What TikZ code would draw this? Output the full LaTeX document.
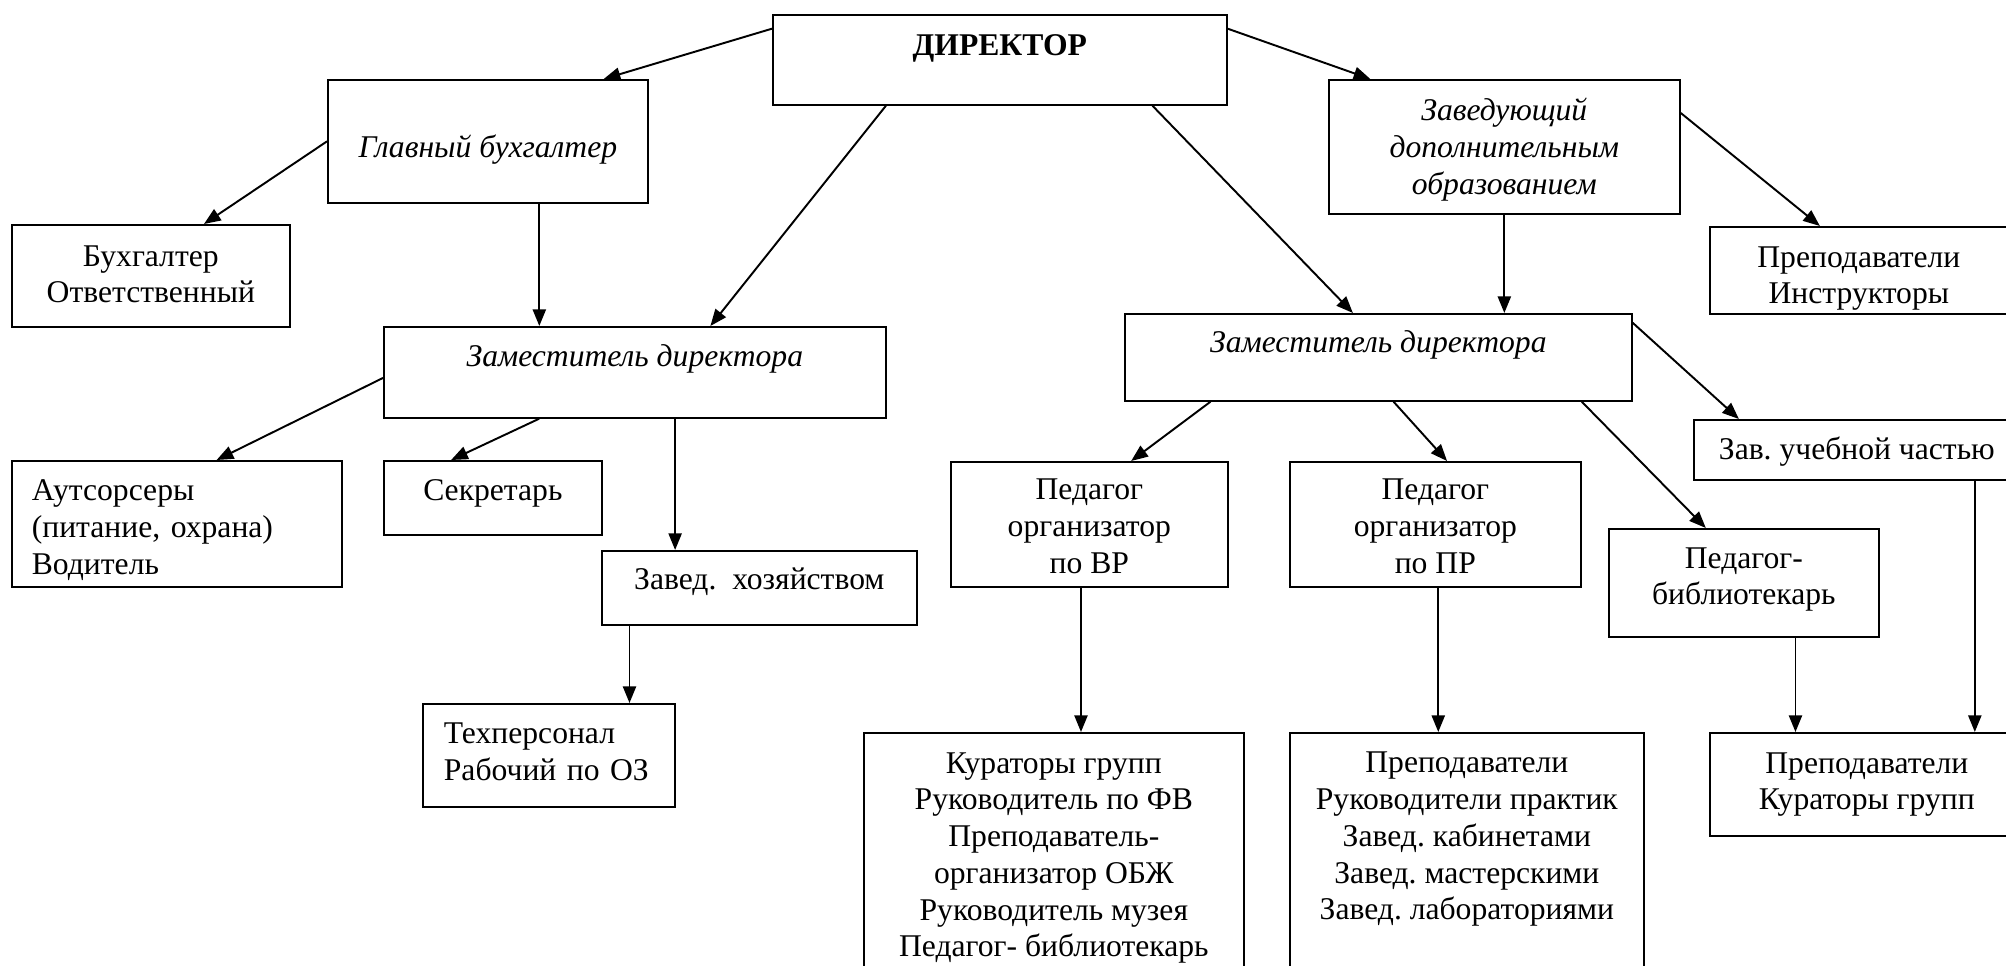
\documentclass[tikz,border=0pt]{standalone}
\usepackage{fontspec}
\setmainfont{Liberation Serif}
\usetikzlibrary{arrows.meta, positioning, calc}
\newcommand{\boxfont}{\fontsize{18pt}{20.9pt}\selectfont\frenchspacing}

\begin{document}
\begin{tikzpicture}[x=0.02cm, y=-0.02cm,
  box/.style={draw, line width=1pt, inner sep=0pt, anchor=north west, align=center, font=\boxfont},
  arr/.style={line width=1.1pt, -{Triangle[length=9.5pt, width=7.5pt]}}]
  \useasboundingbox (0,0) rectangle (2006,966);

  % Top
  \node[box, font=\boxfont\bfseries, minimum width=9.08cm, text height=0.82cm, text depth=0.98cm] (dir) at (772,14) {ДИРЕКТОР};
  \node[box, font=\boxfont\itshape, minimum width=6.40cm, text height=1.56cm, text depth=0.90cm] (glav) at (327,79) {Главный бухгалтер};
  \node[box, font=\boxfont\itshape, minimum width=7.02cm, text height=2.29cm, text depth=0.39cm] (zavdop) at (1328,79) {Заведующий\\дополнительным\\образованием};
  \node[box, minimum width=5.56cm, text height=1.56cm, text depth=0.48cm] (buh) at (11,224) {Бухгалтер\\Ответственный};
  \node[box, minimum width=5.96cm, text height=1.54cm, text depth=0.20cm] (prepI) at (1709,226) {Преподаватели\\Инструкторы};

  % Left branch
  \node[box, font=\boxfont\itshape, minimum width=10.04cm, text height=0.80cm, text depth=1.02cm] (zamL) at (383,326) {Заместитель директора};
  \node[box, align=left, text width=5.8cm, inner xsep=0.4cm, text height=0.80cm, text depth=1.72cm] (aut) at (11,460) {Аутсорсеры\\(питание, охрана)\\Водитель};
  \node[box, minimum width=4.36cm, text height=0.80cm, text depth=0.68cm] (sek) at (383,460) {Секретарь};
  \node[box, minimum width=6.30cm, text height=0.78cm, text depth=0.70cm] (hoz) at (601,550) {Завед.\ \ хозяйством};
  \node[box, align=left, text width=4.2cm, inner xsep=0.42cm, text height=0.80cm, text depth=1.26cm] (tech) at (422,703) {Техперсонал\\Рабочий по ОЗ};

  % Right branch
  \node[box, font=\boxfont\itshape, minimum width=10.14cm, text height=0.78cm, text depth=0.96cm] (zamR) at (1124,313) {Заместитель директора};
  \node[box, minimum width=5.54cm, text height=2.23cm, text depth=0.27cm] (pedVR) at (950,461) {Педагог\\организатор\\по ВР};
  \node[box, minimum width=5.82cm, text height=2.23cm, text depth=0.27cm] (pedPR) at (1289,461) {Педагог\\организатор\\по ПР};
  \node[box, minimum width=6.52cm, text height=0.80cm, text depth=0.40cm] (zavuch) at (1693,419) {Зав. учебной частью};
  \node[box, minimum width=5.40cm, text height=1.52cm, text depth=0.64cm] (pedbib) at (1608,528) {Педагог-\\библиотекарь};

  % Bottom
  \node[box, minimum width=7.60cm, text height=4.48cm, text depth=0.68cm] (kur) at (863,732) {Кураторы групп\\Руководитель по ФВ\\Преподаватель-\\организатор ОБЖ\\Руководитель музея\\Педагог- библиотекарь};
  \node[box, minimum width=7.08cm, text height=3.74cm, text depth=1.42cm] (prepP) at (1289,732) {Преподаватели\\Руководители практик\\Завед. кабинетами\\Завед. мастерскими\\Завед. лабораториями};
  \node[box, minimum width=6.28cm, text height=1.54cm, text depth=0.52cm] (prepK) at (1709,732) {Преподаватели\\Кураторы групп};

  % Arrows from the director
  \draw[arr] ($(dir.north west)!.16!(dir.south west)$) -- ($(glav.north west)!.86!(glav.north east)$);
  \draw[arr] ($(dir.south west)!.25!(dir.south east)$) -- ($(zamL.north west)!.65!(zamL.north east)$);
  \draw[arr] ($(dir.north east)!.16!(dir.south east)$) -- ($(zavdop.north west)!.12!(zavdop.north east)$);
  \draw[arr] ($(dir.south west)!.835!(dir.south east)$) -- ($(zamR.north west)!.45!(zamR.north east)$);

  % Second level
  \draw[arr] (glav.west) -- ($(buh.north west)!.69!(buh.north east)$);
  \draw[arr] ($(glav.south west)!.66!(glav.south east)$) coordinate (g1) -- (g1 |- zamL.north);
  \draw[arr] (zavdop.south) -- (zavdop.south |- zamR.north);
  \draw[arr] ($(zavdop.north east)!.25!(zavdop.south east)$) -- ($(prepI.north west)!.37!(prepI.north east)$);

  % Left deputy
  \draw[arr] ($(zamL.north west)!.56!(zamL.south west)$) -- ($(aut.north west)!.62!(aut.north east)$);
  \draw[arr] ($(zamL.south west)!.31!(zamL.south east)$) -- ($(sek.north west)!.31!(sek.north east)$);
  \draw[arr] ($(zamL.south west)!.58!(zamL.south east)$) coordinate (z1) -- (z1 |- hoz.north);
  \draw[arr] ($(hoz.south west)!.09!(hoz.south east)$) coordinate (h1) -- (h1 |- tech.north);

  % Right deputy
  \draw[arr] ($(zamR.south west)!.17!(zamR.south east)$) -- ($(pedVR.north west)!.65!(pedVR.north east)$);
  \draw[arr] ($(zamR.south west)!.53!(zamR.south east)$) -- ($(pedPR.north west)!.54!(pedPR.north east)$);
  \draw[arr] ($(zamR.south west)!.90!(zamR.south east)$) -- ($(pedbib.north west)!.36!(pedbib.north east)$);
  \draw[arr] ($(zamR.north east)!.11!(zamR.south east)$) -- ($(zavuch.north west)!.14!(zavuch.north east)$);

  % Down to the staff
  \draw[arr] ($(pedVR.south west)!.47!(pedVR.south east)$) coordinate (p1) -- (p1 |- kur.north);
  \draw[arr] ($(pedPR.south west)!.51!(pedPR.south east)$) coordinate (p2) -- (p2 |- prepP.north);
  \draw[arr] ($(pedbib.south west)!.69!(pedbib.south east)$) coordinate (p3) -- (p3 |- prepK.north);
  \draw[arr] ($(zavuch.south west)!.86!(zavuch.south east)$) coordinate (p4) -- (p4 |- prepK.north);
\end{tikzpicture}
\end{document}
